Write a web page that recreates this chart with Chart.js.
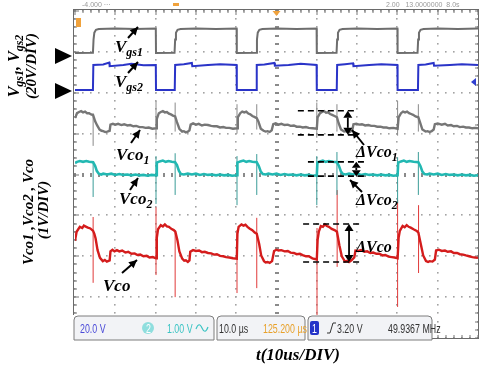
<!DOCTYPE html>
<html>
<head>
<meta charset="utf-8">
<script src="https://cdn.jsdelivr.net/npm/chart.js@4.4.1/dist/chart.umd.min.js"></script>
<style>
  html, body { margin: 0; padding: 0; background: #fff; }
  canvas { display: block; }
</style>
</head>
<body>
<canvas id="scope" width="482" height="366"></canvas>
<script>
// screen grid: 10 time divisions (10 us each), 8 vertical divisions
const timeDivs = [0, 10, 20, 30, 40, 50, 60, 70, 80, 90, 100];
const levelDivs = [0, 1, 2, 3, 4, 5, 6, 7, 8];

// traces as [time in us, screen level in divisions]
const vgs1 = [
  [0, 6.97], [4.45, 6.98], [4.6, 7.3], [4.8, 7.47], [5.2, 7.54], [5.9, 7.56], [10, 7.57], [15, 7.56], [20.05, 7.57],
  [20.1, 6.97], [24.7, 6.98], [24.85, 7.3], [25.05, 7.47], [25.45, 7.54], [26.2, 7.56], [30, 7.57], [35, 7.56], [40.1, 7.57],
  [40.15, 6.97], [45.0, 6.98], [45.15, 7.3], [45.35, 7.47], [45.75, 7.54], [46.5, 7.56], [50, 7.57], [55, 7.56], [59.95, 7.57],
  [60.0, 6.97], [64.9, 6.98], [65.05, 7.3], [65.25, 7.47], [65.65, 7.54], [66.4, 7.56], [70, 7.57], [75, 7.56], [80.0, 7.57],
  [80.05, 6.97], [85.0, 6.98], [85.15, 7.3], [85.35, 7.47], [85.75, 7.54], [86.5, 7.56], [90, 7.57], [95, 7.56], [100, 7.57]
];
const vgs2 = [
  [0, 6.07], [4.45, 6.07], [4.55, 6.68], [7, 6.69], [8.5, 6.74], [8.6, 6.65], [12, 6.68], [14, 6.71], [17, 6.67], [20.05, 6.68],
  [20.1, 6.07], [24.75, 6.07], [24.85, 6.68], [27, 6.7], [29, 6.73], [29.1, 6.65], [33, 6.68], [36, 6.7], [40.1, 6.68],
  [40.15, 6.07], [45.0, 6.07], [45.1, 6.68], [47, 6.69], [49.5, 6.73], [49.6, 6.66], [53, 6.68], [56, 6.71], [59.95, 6.68],
  [60.0, 6.07], [64.95, 6.07], [65.05, 6.68], [67, 6.7], [69, 6.72], [69.1, 6.65], [73, 6.68], [76, 6.7], [80.0, 6.68],
  [80.05, 6.07], [85.1, 6.07], [85.2, 6.68], [87, 6.69], [89, 6.73], [89.1, 6.66], [93, 6.68], [96, 6.7], [100, 6.68]
];
const vco1 = [
  [0, 5.38], [0.5, 5.5], [1.0, 5.53], [1.5, 5.55], [2.0, 5.52], [2.5, 5.54], [3.0, 5.5], [3.5, 5.5], [4.0, 5.47], [4.5, 5.45],
  [5.0, 5.3], [5.5, 5.2], [6.1, 5.1], [6.6, 5.07], [7, 5.06], [7.5, 5.04], [8, 5.05], [8.6, 5.07],
  [8.8, 5.22], [9.4, 5.24], [10, 5.22], [10.7, 5.24], [11.5, 5.21], [12.2, 5.23], [13, 5.2], [13.7, 5.21], [14.5, 5.18], [15.2, 5.19],
  [16, 5.16], [16.8, 5.16], [17.5, 5.14], [18.3, 5.15], [19.2, 5.12], [20.1, 5.13],
  [20.3, 5.36], [20.8, 5.5], [21.3, 5.53], [21.8, 5.55], [22.3, 5.52], [22.8, 5.53], [23.3, 5.49], [23.8, 5.47], [24.3, 5.44], [24.85, 5.42],
  [25.3, 5.28], [25.9, 5.12], [26.6, 5.05], [27, 5.06], [27.5, 5.03], [28, 5.05], [28.4, 5.08],
  [28.7, 5.22], [29.3, 5.25], [30, 5.22], [30.7, 5.24], [31.5, 5.2], [32.2, 5.22], [33, 5.21], [33.8, 5.19], [34.5, 5.18], [35.2, 5.18],
  [36, 5.15], [36.8, 5.16], [37.5, 5.14], [38.3, 5.14], [39.2, 5.12], [40.2, 5.13],
  [40.4, 5.4], [41, 5.5], [41.5, 5.54], [42, 5.52], [42.5, 5.54], [43, 5.49], [43.5, 5.47], [44, 5.43], [44.5, 5.41], [45.1, 5.38],
  [45.5, 5.3], [46.1, 5.12], [46.8, 5.07], [47.3, 5.05], [47.8, 5.06], [48.3, 5.04], [48.8, 5.08],
  [49.2, 5.23], [49.8, 5.25], [50.5, 5.22], [51.2, 5.24], [52, 5.21], [52.8, 5.22], [53.5, 5.19], [54.3, 5.2], [55, 5.17], [55.8, 5.17],
  [56.5, 5.15], [57.3, 5.16], [58, 5.14], [59, 5.13], [60.0, 5.12],
  [60.2, 5.4], [60.8, 5.5], [61.3, 5.53], [61.8, 5.55], [62.3, 5.51], [62.8, 5.52], [63.3, 5.48], [63.8, 5.46], [64.4, 5.43], [65.0, 5.4],
  [65.4, 5.26], [66, 5.1], [66.8, 5.05], [67.3, 5.06], [67.8, 5.03], [68.3, 5.05], [68.8, 5.08],
  [69.1, 5.23], [69.8, 5.24], [70.5, 5.22], [71.2, 5.23], [72, 5.2], [72.8, 5.21], [73.5, 5.19], [74.3, 5.19], [75, 5.17], [75.8, 5.17],
  [76.5, 5.15], [77.3, 5.15], [78, 5.13], [79, 5.14], [80.05, 5.12],
  [80.3, 5.4], [80.9, 5.5], [81.4, 5.54], [81.9, 5.52], [82.4, 5.54], [82.9, 5.5], [83.4, 5.48], [83.9, 5.46], [84.5, 5.42], [85.2, 5.4],
  [85.6, 5.28], [86.2, 5.1], [87, 5.05], [87.5, 5.06], [88, 5.04], [88.5, 5.06], [89, 5.1],
  [89.3, 5.23], [90, 5.25], [91, 5.22], [91.8, 5.24], [92.5, 5.2], [93.3, 5.21], [94, 5.18], [94.8, 5.19], [95.5, 5.16], [96.3, 5.17],
  [97, 5.15], [97.8, 5.15], [98.6, 5.13], [99.3, 5.14], [100, 5.13]
];
const vco2 = [
  [0, 4.28], [0.5, 4.31], [1.2, 4.33], [2, 4.31], [2.8, 4.33], [3.5, 4.31], [4.5, 4.3],
  [5.0, 4.21], [5.4, 4.09], [5.9, 4.02], [6.5, 4.0], [7, 4.02], [8, 4.0], [9, 4.02], [10, 3.99], [11, 4.01], [12, 3.99], [13, 4.0],
  [14, 3.98], [15, 4.0], [16, 3.98], [17, 3.99], [18, 3.97], [19, 3.99], [20.1, 3.98],
  [20.3, 4.29], [21, 4.32], [21.8, 4.34], [22.5, 4.31], [23.2, 4.33], [24, 4.31], [24.85, 4.3],
  [25.3, 4.23], [25.8, 4.09], [26.3, 4.01], [27, 4.0], [28, 4.02], [29, 4.0], [30, 4.02], [31, 3.99], [32, 4.01], [33, 3.99], [34, 4.0],
  [35, 3.98], [36, 4.0], [37, 3.98], [38, 3.99], [39, 3.97], [40.2, 3.98],
  [40.3, 4.29], [41, 4.32], [41.8, 4.34], [42.5, 4.31], [43.2, 4.33], [44, 4.31], [45.1, 4.3],
  [45.6, 4.21], [46.1, 4.07], [46.6, 4.01], [47.3, 4.0], [48, 4.02], [49, 4.0], [50, 4.02], [51, 3.99], [52, 4.01], [53, 3.99], [54, 4.0],
  [55, 3.98], [56, 4.0], [57, 3.98], [58, 3.99], [59, 3.97], [60.0, 3.98],
  [60.15, 4.29], [60.8, 4.32], [61.5, 4.34], [62.2, 4.31], [63, 4.33], [64, 4.31], [65.0, 4.3],
  [65.5, 4.21], [66, 4.07], [66.5, 4.01], [67.2, 4.0], [68, 4.02], [69, 4.0], [70, 4.02], [71, 3.99], [72, 4.01], [73, 3.99], [74, 4.0],
  [75, 3.98], [76, 4.0], [77, 3.98], [78, 3.99], [79, 3.97], [80.05, 3.98],
  [80.2, 4.29], [80.9, 4.32], [81.6, 4.34], [82.3, 4.31], [83, 4.33], [84, 4.31], [85.2, 4.3],
  [85.7, 4.21], [86.2, 4.07], [86.7, 4.01], [87.4, 4.0], [88, 4.02], [89, 4.0], [90, 4.02], [91, 3.99], [92, 4.01], [93, 3.99], [94, 4.0],
  [95, 3.98], [96, 4.0], [97, 3.98], [98, 3.99], [99, 3.97], [100, 3.98]
];
const vco = [
  [0, 2.38], [0.4, 2.6], [1.2, 2.72], [1.8, 2.69], [2.2, 2.75], [2.8, 2.72], [3.2, 2.7], [3.8, 2.68], [4.5, 2.62],
  [4.8, 2.55], [5.1, 2.44], [5.6, 2.15], [6.2, 1.96], [6.9, 1.88], [7.4, 1.91], [7.9, 1.87], [8.6, 1.9],
  [8.8, 2.12], [9.3, 2.16], [9.8, 2.12], [10.4, 2.15], [11, 2.12], [11.7, 2.14], [12.5, 2.09], [13.2, 2.11], [14, 2.06], [14.8, 2.07],
  [15.5, 2.03], [16.2, 2.04], [17, 2.0], [17.8, 2.01], [18.5, 1.97], [19.3, 1.98], [20.1, 1.95],
  [20.3, 2.45], [20.6, 2.66], [21.3, 2.76], [21.8, 2.73], [22.3, 2.78], [22.8, 2.73], [23.3, 2.72], [23.9, 2.67], [24.5, 2.64], [24.9, 2.6],
  [25.4, 2.4], [25.9, 2.12], [26.6, 1.94], [27.1, 1.89], [27.5, 1.9], [28.0, 1.86], [28.4, 1.9],
  [28.6, 2.11], [29.3, 2.15], [30, 2.13], [30.8, 2.14], [31.5, 2.1], [32.2, 2.11], [33, 2.08], [33.8, 2.07], [34.5, 2.04], [35.2, 2.05],
  [36, 2.01], [36.8, 2.0], [37.5, 1.98], [38.3, 1.97], [39.2, 1.95], [40.15, 1.94],
  [40.3, 2.55], [40.6, 2.72], [41.3, 2.78], [41.8, 2.75], [42.3, 2.77], [42.8, 2.72], [43.3, 2.68], [44, 2.64], [44.6, 2.58], [45.1, 2.55],
  [45.7, 2.3], [46.2, 2.02], [46.9, 1.88], [47.3, 1.85], [47.8, 1.86], [48.3, 1.84], [48.9, 1.88],
  [49.4, 2.13], [50, 2.16], [50.5, 2.14], [51.2, 2.15], [52, 2.12], [52.8, 2.13], [53.5, 2.09], [54.3, 2.08], [55, 2.05], [55.8, 2.06],
  [56.5, 2.03], [57.3, 2.0], [58, 2.0], [58.9, 1.95], [60.0, 1.92],
  [60.2, 2.4], [60.5, 2.6], [61, 2.74], [61.5, 2.72], [62, 2.78], [62.5, 2.74], [63, 2.72], [63.7, 2.67], [64.4, 2.64], [65.0, 2.6],
  [65.6, 2.27], [66.2, 2.0], [67, 1.87], [67.5, 1.89], [68, 1.86], [68.6, 1.9], [69.3, 1.97],
  [69.6, 2.14], [70.3, 2.13], [71, 2.15], [71.8, 2.11], [72.5, 2.12], [73.3, 2.08], [74, 2.09], [74.8, 2.06], [75.5, 2.06], [76.3, 2.02],
  [77, 2.03], [77.8, 1.99], [78.6, 1.98], [79.3, 1.97], [80.05, 1.95],
  [80.3, 2.45], [80.6, 2.62], [81.3, 2.74], [81.8, 2.71], [82.3, 2.76], [82.8, 2.72], [83.3, 2.7], [84, 2.66], [84.8, 2.62], [85.2, 2.58],
  [85.8, 2.3], [86.4, 2.02], [87.1, 1.88], [87.6, 1.86], [88, 1.88], [88.7, 1.87], [89.3, 1.92],
  [89.6, 2.14], [90.3, 2.16], [91, 2.13], [91.8, 2.14], [92.5, 2.11], [93.3, 2.12], [94, 2.08], [94.8, 2.08], [95.5, 2.05], [96.3, 2.04],
  [97, 2.02], [97.8, 2.0], [98.6, 1.98], [99.3, 1.97], [100, 1.96]
];

// switching spikes: pairs of [time, level] with a null level between spikes
const vco1Spikes = [
  [4.5, 4.7], [4.5, 5.5], [4.5, null], [20.1, 4.86], [20.1, 5.8], [20.1, null], [24.85, 5.05], [24.85, 5.76], [24.85, null],
  [40.2, 5.0], [40.2, 5.72], [40.2, null], [45.1, 5.1], [45.1, 5.72], [45.1, null], [60.0, 4.9], [60.0, 5.76], [60.0, null],
  [65.0, 5.05], [65.0, 5.72], [65.0, null], [80.05, 4.95], [80.05, 5.8], [80.05, null], [85.2, 5.05], [85.2, 5.72]
];
const vco2Spikes = [
  [4.5, 3.45], [4.5, 4.3], [4.5, null], [20.1, 3.28], [20.1, 4.45], [20.1, null], [24.85, 3.5], [24.85, 4.52], [24.85, null],
  [40.2, 3.25], [40.2, 4.45], [40.2, null], [45.1, 3.5], [45.1, 4.5], [45.1, null], [60.0, 3.25], [60.0, 4.45], [60.0, null],
  [65.0, 3.5], [65.0, 4.55], [65.0, null], [80.05, 3.3], [80.05, 4.42], [80.05, null], [85.2, 3.5], [85.2, 4.55]
];
const vcoSpikes = [
  [4.5, 1.35], [4.5, 2.96], [4.5, null], [20.1, 1.54], [20.1, 3.2], [20.1, null], [24.85, 1.0], [24.85, 2.64], [24.85, null],
  [40.2, 1.1], [40.2, 2.64], [40.2, null], [45.1, 1.22], [45.1, 2.94], [45.1, null], [60.05, 0.51], [60.05, 2.69], [60.05, null],
  [65.05, 1.74], [65.05, 3.62], [65.05, null], [80.05, 0.76], [80.05, 3.38], [80.05, null], [85.25, 1.59], [85.25, 3.25]
];

// ripple markers: [t start, t end, upper level, lower level, arrow t]
const rippleMarks = [
  [55.3, 70.0, 5.56, 4.97, 67.7],
  [57.8, 72.0, 4.31, 3.96, 69.8],
  [56.6, 70.8, 2.79, 1.86, 68.0]
];

const SERIF = '"Liberation Serif", "DejaVu Serif", serif';
const NARROW = '"Liberation Sans Narrow", "Liberation Sans", sans-serif';

// draws text made of [text, isSub] runs starting at x, baseline y
function richText(ctx, x, y, runs, size) {
  let cx = x;
  runs.forEach(([t, sub]) => {
    const s = sub ? Math.round(size * 0.72) : size;
    ctx.font = `italic bold ${s}px ${SERIF}`;
    ctx.fillText(t, cx, y + (sub ? Math.round(size * 0.22) : 0));
    cx += ctx.measureText(t).width;
  });
  return cx - x;
}
function runsWidth(ctx, runs, size) {
  let w = 0;
  runs.forEach(([t, sub]) => {
    const s = sub ? Math.round(size * 0.72) : size;
    ctx.font = `italic bold ${s}px ${SERIF}`;
    w += ctx.measureText(t).width;
  });
  return w;
}

function arrowHead(ctx, x1, y1, x2, y2, len, half) {
  const a = Math.atan2(y2 - y1, x2 - x1);
  ctx.beginPath();
  ctx.moveTo(x2, y2);
  ctx.lineTo(x2 - len * Math.cos(a) + half * Math.sin(a), y2 - len * Math.sin(a) - half * Math.cos(a));
  ctx.lineTo(x2 - len * Math.cos(a) - half * Math.sin(a), y2 - len * Math.sin(a) + half * Math.cos(a));
  ctx.closePath();
  ctx.fill();
}
function pointer(ctx, x1, y1, x2, y2) {
  ctx.beginPath();
  ctx.moveTo(x1, y1);
  ctx.lineTo(x2, y2);
  ctx.stroke();
  arrowHead(ctx, x1, y1, x2, y2, 8, 4);
}

const scopeGrid = {
  id: 'scopeGrid',
  beforeDatasetsDraw(chart) {
    const { ctx, chartArea: a, scales: { x, y } } = chart;
    ctx.save();
    ctx.fillStyle = '#a3a3a3';
    // dotted division lines, a dot every fifth of a division
    timeDivs.forEach(t => {
      const px = Math.round(x.getPixelForValue(t));
      for (let i = 0; i <= 40; i++) {
        const py = Math.round(y.getPixelForValue(i / 5));
        ctx.fillRect(px - 1, py - 1, 1.6, 1.6);
      }
    });
    levelDivs.forEach(v => {
      const py = Math.round(y.getPixelForValue(v));
      for (let i = 0; i <= 50; i++) {
        const px = Math.round(x.getPixelForValue(i * 2));
        ctx.fillRect(px - 1, py - 1, 1.6, 1.6);
      }
    });
    // centre axes with minor ticks
    ctx.fillStyle = '#8a8a8a';
    const cx = Math.round(x.getPixelForValue(50));
    const cy = Math.round(y.getPixelForValue(4));
    for (let i = 0; i <= 40; i++) {
      const py = Math.round(y.getPixelForValue(i / 5));
      ctx.fillRect(cx - 2, py - 1, 4, 2);
    }
    for (let i = 0; i <= 50; i++) {
      const px = Math.round(x.getPixelForValue(i * 2));
      ctx.fillRect(px - 1, cy - 2, 2, 4);
    }
    // frame with rulers
    ctx.strokeStyle = '#6a6a6a';
    ctx.lineWidth = 1;
    ctx.strokeRect(a.left - 1.5, a.top - 1.5, a.right - a.left + 2, a.bottom - a.top + 2);
    ctx.fillStyle = '#777';
    for (let i = 0; i <= 50; i++) {
      const px = Math.round(x.getPixelForValue(i * 2));
      ctx.fillRect(px - 0.5, a.top - 1, 1, i % 5 === 0 ? 5 : 3);
      ctx.fillRect(px - 0.5, a.bottom - 3, 1, 3);
    }
    for (let i = 0; i <= 40; i++) {
      const py = Math.round(y.getPixelForValue(i / 5));
      ctx.fillRect(a.left - 1, py - 0.5, i % 5 === 0 ? 5 : 3, 1);
      ctx.fillRect(a.right - 3, py - 0.5, 3, 1);
    }
    ctx.restore();
  }
};

const overlay = {
  id: 'overlay',
  afterDraw(chart) {
    const { ctx, chartArea: a, scales: { x, y } } = chart;
    ctx.save();

    // scope markers
    ctx.fillStyle = '#f0a23c';
    ctx.fillRect(a.left + 1, 18, 5, 9);
    ctx.beginPath();
    const tx = x.getPixelForValue(50);
    ctx.moveTo(tx - 4, a.top); ctx.lineTo(tx + 4, a.top); ctx.lineTo(tx, a.top + 5); ctx.closePath(); ctx.fill();
    ctx.fillRect(173, 3, 6, 3);
    ctx.fillStyle = '#3040d0';
    ctx.beginPath();
    ctx.moveTo(a.right - 7, 82); ctx.lineTo(a.right - 2, 78); ctx.lineTo(a.right - 2, 86); ctx.closePath(); ctx.fill();
    ctx.fillStyle = '#999';
    ctx.font = `7px ${NARROW}`;
    ctx.fillText('-4.000 ···', 82, 7);
    ctx.fillText('2.00   13.0000000  8.0s', 386, 7);

    // ground arrows left of the screen
    ctx.fillStyle = '#000';
    [56, 91].forEach(py => {
      ctx.beginPath();
      ctx.moveTo(55, py - 8); ctx.lineTo(72, py); ctx.lineTo(55, py + 8); ctx.closePath(); ctx.fill();
    });

    // ripple markers
    ctx.strokeStyle = '#000';
    ctx.fillStyle = '#000';
    rippleMarks.forEach(([t0, t1, hi, lo, ta]) => {
      const x0 = x.getPixelForValue(t0), x1 = x.getPixelForValue(t1);
      const yh = y.getPixelForValue(hi), yl = y.getPixelForValue(lo);
      ctx.lineWidth = 1.6;
      ctx.setLineDash([6, 4]);
      ctx.beginPath();
      ctx.moveTo(x0, yh); ctx.lineTo(x1, yh);
      ctx.moveTo(x0, yl); ctx.lineTo(x1, yl);
      ctx.stroke();
      ctx.setLineDash([]);
      const xa = x.getPixelForValue(ta);
      const head = Math.min(7, (yl - yh) / 2.4);
      ctx.lineWidth = 1.8;
      ctx.beginPath();
      ctx.moveTo(xa, yh + head); ctx.lineTo(xa, yl - head);
      ctx.stroke();
      arrowHead(ctx, xa, yl, xa, yh, head, 4.5);
      arrowHead(ctx, xa, yh, xa, yl, head, 4.5);
    });

    // trace labels
    ctx.lineWidth = 2;
    richText(ctx, 115, 52, [['V'], ['gs1', 1]], 17);
    pointer(ctx, 128, 38, 138, 27);
    richText(ctx, 115, 87, [['V'], ['gs2', 1]], 17);
    pointer(ctx, 128, 73, 138, 62);
    richText(ctx, 116, 160, [['Vco'], ['1', 1]], 17);
    pointer(ctx, 131, 143, 140, 130);
    richText(ctx, 119, 204, [['Vco'], ['2', 1]], 17);
    pointer(ctx, 130, 190, 138, 178);
    richText(ctx, 103, 291, [['Vco']], 17);
    pointer(ctx, 122, 273, 137, 260);
    richText(ctx, 356, 157, [['\u0394Vco'], ['1', 1]], 16);
    pointer(ctx, 364, 145, 352, 130);
    richText(ctx, 356, 205, [['\u0394Vco'], ['2', 1]], 16);
    pointer(ctx, 362, 192, 350, 180);
    richText(ctx, 356, 252, [['\u0394Vco']], 16);

    // rotated axis titles
    const vTitle = (cxp, cyp, runs, size) => {
      ctx.save();
      ctx.translate(cxp, cyp);
      ctx.rotate(-Math.PI / 2);
      richText(ctx, -runsWidth(ctx, runs, size) / 2, 0, runs, size);
      ctx.restore();
    };
    vTitle(19, 66, [['V'], ['gs1', 1], [', V'], ['gs2', 1]], 16);
    vTitle(36, 66, [['(20V/DIV)']], 15);
    vTitle(33, 212, [['Vco1 ,Vco2 , Vco']], 15);
    vTitle(48, 210, [['(1V/DIV)']], 15);

    // time axis title
    const tRuns = [['t(10us/DIV)']];
    richText(ctx, 298 - runsWidth(ctx, tRuns, 17) / 2, 360, tRuns, 17);

    // status bar
    ctx.fillStyle = '#fff';
    ctx.fillRect(a.left - 2, 315, 432 - a.left + 2, 27);
    [[74, 214], [217, 305], [308, 432]].forEach(([l, r]) => {
      ctx.beginPath();
      ctx.roundRect(l, 316, r - l, 24, [4, 4, 0, 0]);
      ctx.fillStyle = '#f2f3f6';
      ctx.fill();
      ctx.strokeStyle = '#7d7d7d';
      ctx.lineWidth = 1;
      ctx.stroke();
    });
    const narrow = (txt, px, color) => {
      ctx.save();
      ctx.translate(px, 333);
      ctx.scale(0.68, 1);
      ctx.font = `13px ${NARROW}`;
      ctx.fillStyle = color;
      ctx.fillText(txt, 0, 0);
      ctx.restore();
    };
    narrow('20.0 V', 80, '#4a4ad8');
    ctx.fillStyle = '#8fdede';
    ctx.beginPath(); ctx.arc(148, 328, 6, 0, Math.PI * 2); ctx.fill();
    narrow('2', 146, '#ffffff');
    narrow('1.00 V', 167, '#3cc4c4');
    ctx.strokeStyle = '#3cc4c4';
    ctx.lineWidth = 1.2;
    ctx.beginPath();
    ctx.moveTo(196, 329); ctx.quadraticCurveTo(199, 321, 202, 328); ctx.quadraticCurveTo(205, 335, 208, 327);
    ctx.stroke();
    narrow('10.0 \u00b5s', 219, '#333');
    narrow('125.200 \u00b5s', 263, '#e8a12a');
    ctx.fillStyle = '#2434c8';
    ctx.beginPath(); ctx.roundRect(310, 321, 9, 14, 2); ctx.fill();
    narrow('1', 312, '#ffffff');
    ctx.strokeStyle = '#333';
    ctx.lineWidth = 1;
    ctx.beginPath();
    ctx.moveTo(327, 333); ctx.lineTo(330, 333); ctx.lineTo(333, 323); ctx.lineTo(336, 323);
    ctx.stroke();
    narrow('3.20 V', 337, '#333');
    narrow('49.9367 MHz', 388, '#333');

    ctx.restore();
  }
};

const trace = (data, color, width) => ({
  data, borderColor: color, borderWidth: width, pointRadius: 0, tension: 0, fill: false, spanGaps: false
});

new Chart(document.getElementById('scope'), {
  type: 'line',
  data: {
    datasets: [
      trace(vgs1, '#6e6e6e', 2),
      trace(vgs2, '#2a34c8', 2),
      trace(vco1, '#767676', 2.4),
      trace(vco1Spikes, '#8a8a8a', 1),
      trace(vco2, '#22b8b2', 2.6),
      trace(vco2Spikes, '#3a9c98', 1),
      trace(vco, '#d41c1c', 2.4),
      trace(vcoSpikes, '#e03a3a', 1)
    ]
  },
  options: {
    responsive: false,
    animation: false,
    events: [],
    layout: { padding: { left: 75, right: 4, top: 11, bottom: 28 } },
    plugins: { legend: { display: false }, tooltip: { enabled: false } },
    scales: {
      x: { type: 'linear', min: 0, max: 100, display: false },
      y: { type: 'linear', min: 0, max: 8, display: false }
    }
  },
  plugins: [scopeGrid, overlay]
});
</script>
</body>
</html>
